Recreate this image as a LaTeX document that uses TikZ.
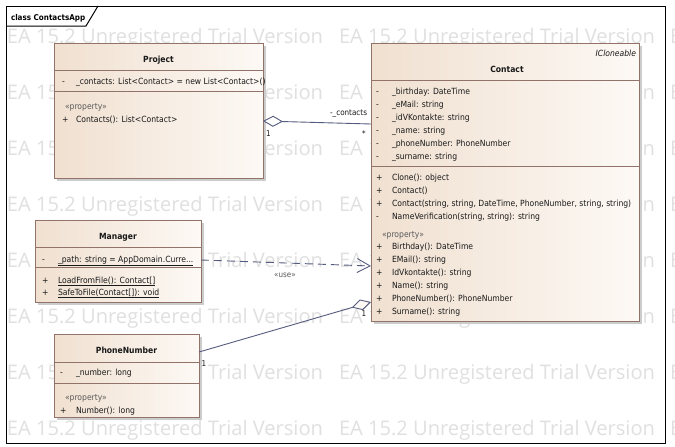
\documentclass[tikz,border=0pt]{standalone}
\usepackage{fontspec}
\setmainfont{DejaVu Sans Condensed}
\newfontfamily\wmfont{Open Sans}
\usetikzlibrary{arrows.meta}
\definecolor{boxline}{RGB}{145,115,105}
\definecolor{fillL}{RGB}{240,224,208}
\definecolor{fillR}{RGB}{253,249,245}
\definecolor{conn}{RGB}{85,92,125}
\definecolor{wmc}{RGB}{224,224,224}
\definecolor{txt}{RGB}{25,25,25}
\definecolor{stereoc}{RGB}{90,90,90}
\begin{document}
\begin{tikzpicture}[x=1pt,y=-1pt,
  every node/.style={inner sep=0pt, outer sep=0pt},
  classbox/.style={draw=boxline, line width=0.9pt, left color=fillL, right color=fillR, anchor=north west},
  shadowbox/.style={fill=black!20, anchor=north west},
  sepline/.style={draw=boxline, line width=0.8pt},
  txtA/.style={font=\fontsize{8.5}{10}\selectfont, text=txt, anchor=base west},
  cname/.style={font=\bfseries\fontsize{8.5}{10}\selectfont, text=txt, anchor=base},
  stereo/.style={font=\fontsize{8.5}{10}\selectfont, text=stereoc, anchor=base west},
  wmark/.style={font=\wmfont\fontsize{19}{22}\selectfont, text=wmc, anchor=base west},
  conline/.style={draw=conn, line width=0.9pt},
  clabel/.style={font=\fontsize{8}{10}\selectfont, text=txt},
]
\useasboundingbox (0,0) rectangle (675,447);
\fill[white] (0,0) rectangle (675,447);
% watermark
\foreach \yy [count=\i] in {43.5,99.5,...,435.5}{
  \foreach \xx [count=\j] in {7,339,670}{
    \node[wmark] (wm-\i-\j) at (\xx,\yy) {\resizebox{316pt}{!}{EA 15.2 Unregistered Trial Version}};
  }
}
% frame
\draw[black, line width=1pt] (6,6) rectangle (665,443);
\draw[black, line width=1pt] (6,26) -- (86,26) -- (98,6);
\node[font=\bfseries\fontsize{8}{10}\selectfont, text=black, anchor=base west] (frt) at (11,20) {class ContactsApp};

% ---------- Project
\node[shadowbox, minimum width=209pt, minimum height=135pt] (projectsh) at (57,46) {};
\node[classbox, minimum width=209pt, minimum height=135pt] (project) at (54,43) {};
\node[cname] (pjn) at (158.5,62) {Project};
\draw[sepline] (54,70) -- (263,70);
\node[txtA] (pj1v) at (62,84) {-};
\node[txtA] (pj1) at (76,84) {\_contacts: List<Contact> = new List<Contact>()};
\draw[sepline] (54,91) -- (263,91);
\node[stereo] (pjs) at (65,109) {«property»};
\node[txtA] (pj2v) at (62,122) {+};
\node[txtA] (pj2) at (76,122) {Contacts(): List<Contact>};

% ---------- Contact
\node[shadowbox, minimum width=268pt, minimum height=278pt] (contactsh) at (374,46) {};
\node[classbox, minimum width=268pt, minimum height=278pt] (contact) at (371,43) {};
\node[font=\itshape\fontsize{8.5}{10}\selectfont, text=txt, anchor=base east] (cti) at (636,56) {ICloneable};
\node[cname] (ctn) at (507,72) {Contact};
\draw[sepline] (371,80) -- (639,80);
\node[txtA] (ca1v) at (376,94) {-};  \node[txtA] (ca1) at (392,94) {\_birthday: DateTime};
\node[txtA] (ca2v) at (376,107) {-}; \node[txtA] (ca2) at (392,107) {\_eMail: string};
\node[txtA] (ca3v) at (376,120) {-}; \node[txtA] (ca3) at (392,120) {\_idVKontakte: string};
\node[txtA] (ca4v) at (376,133) {-}; \node[txtA] (ca4) at (392,133) {\_name: string};
\node[txtA] (ca5v) at (376,146) {-}; \node[txtA] (ca5) at (392,146) {\_phoneNumber: PhoneNumber};
\node[txtA] (ca6v) at (376,159) {-}; \node[txtA] (ca6) at (392,159) {\_surname: string};
\draw[sepline] (371,166) -- (639,166);
\node[txtA] (co1v) at (376,180) {+}; \node[txtA] (co1) at (392,180) {Clone(): object};
\node[txtA] (co2v) at (376,193) {+}; \node[txtA] (co2) at (392,193) {Contact()};
\node[txtA] (co3v) at (376,206) {+}; \node[txtA] (co3) at (392,206) {Contact(string, string, DateTime, PhoneNumber, string, string)};
\node[txtA] (co4v) at (376,219) {-}; \node[txtA] (co4) at (392,219) {NameVerification(string, string): string};
\node[stereo] (cps) at (382,237) {«property»};
\node[txtA] (cp1v) at (376,249) {+}; \node[txtA] (cp1) at (392,249) {Birthday(): DateTime};
\node[txtA] (cp2v) at (376,262) {+}; \node[txtA] (cp2) at (392,262) {EMail(): string};
\node[txtA] (cp3v) at (376,275) {+}; \node[txtA] (cp3) at (392,275) {IdVkontakte(): string};
\node[txtA] (cp4v) at (376,288) {+}; \node[txtA] (cp4) at (392,288) {Name(): string};
\node[txtA] (cp5v) at (376,301) {+}; \node[txtA] (cp5) at (392,301) {PhoneNumber(): PhoneNumber};
\node[txtA] (cp6v) at (376,314) {+}; \node[txtA] (cp6) at (392,314) {Surname(): string};

% ---------- Manager
\node[shadowbox, minimum width=166pt, minimum height=82pt] (managersh) at (38,223) {};
\node[classbox, minimum width=166pt, minimum height=82pt] (manager) at (35,220) {};
\node[cname] (mgn) at (118,239) {Manager};
\draw[sepline] (35,247) -- (201,247);
\node[txtA] (ma1v) at (42,262) {-}; \node[txtA] (ma1) at (58,262) {\underline{\_path: string = AppDomain.Curre...}};
\draw[sepline] (35,267) -- (201,267);
\node[txtA] (mo1v) at (42,283) {+}; \node[txtA] (mo1) at (58,283) {\underline{LoadFromFile(): Contact[]}};
\node[txtA] (mo2v) at (42,295) {+}; \node[txtA] (mo2) at (58,295) {\underline{SafeToFile(Contact[]): void}};

% ---------- PhoneNumber
\node[shadowbox, minimum width=145pt, minimum height=83pt] (phonesh) at (57,337) {};
\node[classbox, minimum width=145pt, minimum height=83pt] (phone) at (54,334) {};
\node[cname] (phn) at (126.5,353) {PhoneNumber};
\draw[sepline] (54,362) -- (199,362);
\node[txtA] (pa1v) at (60,375) {-}; \node[txtA] (pa1) at (76,375) {\_number: long};
\draw[sepline] (54,383) -- (199,383);
\node[stereo] (pps) at (65,400) {«property»};
\node[txtA] (pp1v) at (60,413) {+}; \node[txtA] (pp1) at (76,413) {Number(): long};

% ---------- connectors
\draw[conline, {Diamond[length=20pt, width=11pt, fill=white]}-] ([yshift=-78pt]project.north east) -- ([yshift=-81pt]contact.north west);
\node[clabel, anchor=base east] (l1) at (367,115) {-\_contacts};
\node[clabel, anchor=base west] (l2) at (266,136) {1};
\node[clabel, anchor=base] (l3) at (364,136) {*};

\draw[conline, dash pattern=on 8pt off 5pt, -{Straight Barb[length=13pt, width=14pt]}] ([yshift=-40pt]manager.north east) -- ([yshift=-223pt]contact.north west);
\node[clabel, text=stereoc, anchor=base] (use) at (285,277) {«use»};

\draw[conline, -{Diamond[length=20pt, width=11pt, fill=fillR]}] ([yshift=-18pt]phone.north east) -- ([yshift=-259pt]contact.north west);
\node[clabel, anchor=base] (l4) at (364,316) {1};
\node[clabel, anchor=base] (l5) at (204,366) {1};
\end{tikzpicture}
\end{document}
